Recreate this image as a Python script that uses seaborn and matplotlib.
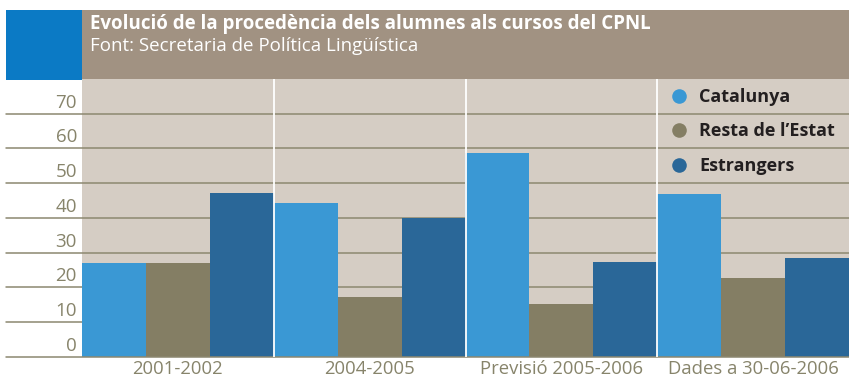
import matplotlib
matplotlib.use("Agg")
import matplotlib.pyplot as plt
import matplotlib.transforms as mtransforms
from matplotlib.patches import Rectangle
from matplotlib.lines import Line2D
import pandas as pd
import seaborn as sns

# Data: origin of CPNL course students (%)
cursos = ["2001-2002", "2004-2005", "Previsió 2005-2006", "Dades a 30-06-2006"]
origens = ["Catalunya", "Resta de l’Estat", "Estrangers"]
catalunya = [27.0, 44.3, 58.7, 46.9]
resta_estat = [27.0, 17.2, 15.2, 22.7]
estrangers = [47.1, 40.0, 27.3, 28.4]
y_ticks = [0, 10, 20, 30, 40, 50, 60, 70]

titol = "Evolució de la procedència dels alumnes als cursos del CPNL"
font_dades = "Font: Secretaria de Política Lingüística"

colors = ["#3a98d4", "#847e64", "#2a6798"]
bg_plot = "#d5cdc4"
header_col = "#a19282"
blue_box = "#0b7ac5"
grid_col = "#8c8870"
tick_col = "#87846b"

df = pd.DataFrame({
    "curs": cursos * 3,
    "origen": [origens[0]] * 4 + [origens[1]] * 4 + [origens[2]] * 4,
    "valor": catalunya + resta_estat + estrangers,
})

sns.set_theme(style="white")
plt.rcParams["font.family"] = ["Open Sans", "DejaVu Sans"]

W, H = 849, 378
fig = plt.figure(figsize=(W / 100, H / 100), dpi=100)
fig.patch.set_facecolor("white")

def fx(px):
    return px / W

def fy(py):
    return 1 - py / H

# header band
fig.patches.append(Rectangle((fx(6), fy(80)), fx(82) - fx(6), fy(10) - fy(80),
                             transform=fig.transFigure, facecolor=blue_box,
                             edgecolor="none", zorder=0))
fig.patches.append(Rectangle((fx(82), fy(79)), 1 - fx(82), fy(10) - fy(79),
                             transform=fig.transFigure, facecolor=header_col,
                             edgecolor="none", zorder=0))
fig.text(fx(90), fy(29.5), titol, color="white", fontsize=13.5,
         fontweight="bold", va="baseline", ha="left")
fig.text(fx(90), fy(51), font_dades, color="white", fontsize=13.5,
         va="baseline", ha="left")

left, right = fx(82), 1.0
bottom, top = fy(356.7), fy(79)
ax = fig.add_axes([left, bottom, right - left, top - bottom])
ax.set_facecolor(bg_plot)

sns.barplot(data=df, x="curs", y="valor", hue="origen", hue_order=origens,
            order=cursos, palette=colors, width=1.0, gap=0, saturation=1,
            linewidth=0, legend=False, ax=ax, zorder=2)

ax.set_xlim(-0.5, len(cursos) - 0.5)
ax.set_ylim(0, 80)

# horizontal rules, extended into the left margin
ext = -(82 - 6) / (849 - 82)
for v in y_ticks:
    ax.axhline(v, xmin=ext, xmax=1, color=grid_col, lw=1.1,
               clip_on=False, zorder=1 if v else 3)

# white separators between year groups
for i in range(len(cursos) - 1):
    ax.axvline(i + 0.5, color="white", lw=1.3, zorder=4)

for s in ax.spines.values():
    s.set_visible(False)

ax.set_xlabel("")
ax.set_ylabel("")
ax.set_yticks(y_ticks)
ax.set_yticklabels([str(v) for v in y_ticks])
ax.tick_params(axis="y", length=0, pad=3.6, labelsize=13.5, labelcolor=tick_col)
ax.tick_params(axis="x", length=0, pad=2.5, labelsize=13.3, labelcolor=tick_col)
shift = mtransforms.ScaledTranslation(0, 0.11, fig.dpi_scale_trans)
for lab in ax.get_yticklabels():
    lab.set_transform(lab.get_transform() + shift)
    lab.set_va("center")

handles = [Line2D([], [], marker="o", linestyle="", markersize=10.5,
                  markerfacecolor=c, markeredgecolor="none") for c in colors]
leg = ax.legend(handles, origens, loc="upper left",
                bbox_to_anchor=(fx(670), fy(88)), bbox_transform=fig.transFigure,
                frameon=False, borderpad=0, borderaxespad=0, handlelength=1.0,
                handletextpad=0.6, labelspacing=0.91,
                prop={"weight": "bold", "size": 13, "family": ["Open Sans", "DejaVu Sans"]})
for t in leg.get_texts():
    t.set_color("#231f20")
leg.set_zorder(5)

fig.savefig("out.png", dpi=100, facecolor="white")
